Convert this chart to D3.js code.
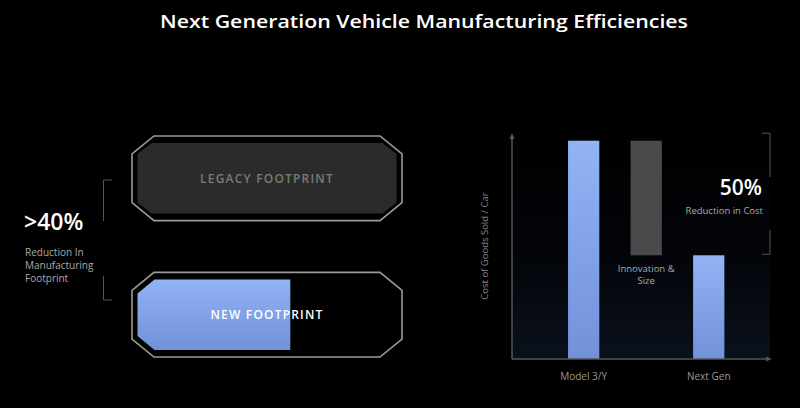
<!DOCTYPE html>
<html>
<head>
<meta charset="utf-8">
<script src="https://cdn.jsdelivr.net/npm/d3@7"></script>
<style>
  html, body { margin: 0; padding: 0; background: #000; }
  svg { display: block; font-family: "Open Sans", sans-serif; }
</style>
</head>
<body>
<svg id="chart" width="800" height="408"></svg>
<script>
// footprint values (legacy = 100)
const footprintNames = ['LEGACY FOOTPRINT', 'NEW FOOTPRINT'];
const footprintValues = [100, 59];
// cost per car (Model 3/Y = 100)
const costCategories = ['Model 3/Y', 'Innovation', 'Next Gen'];
const costLow = [0, 47.5, 0];
const costHigh = [100, 100, 47.5];
const costLabels = ['Model 3/Y', '', 'Next Gen'];

const svg = d3.select('#chart');
const width = 800, height = 408;

svg.append('rect').attr('width', width).attr('height', height).attr('fill', '#000');

const defs = svg.append('defs');
const blue = defs.append('linearGradient').attr('id', 'blue').attr('x1', 0).attr('x2', 0).attr('y1', 0).attr('y2', 1);
blue.append('stop').attr('offset', '0%').attr('stop-color', '#93b3f6');
blue.append('stop').attr('offset', '100%').attr('stop-color', '#7191d9');
const bg = defs.append('linearGradient').attr('id', 'bg').attr('x1', 0).attr('x2', 0).attr('y1', 0).attr('y2', 1);
bg.append('stop').attr('offset', '0%').attr('stop-color', '#000');
bg.append('stop').attr('offset', '55%').attr('stop-color', '#03050a');
bg.append('stop').attr('offset', '100%').attr('stop-color', '#0a111c');

// title
svg.append('text')
  .attr('x', 160).attr('y', 27.5)
  .attr('fill', '#fff')
  .attr('font-size', 18.5)
  .attr('font-weight', 600)
  .attr('textLength', 528)
  .attr('lengthAdjust', 'spacingAndGlyphs')
  .text('Next Generation Vehicle Manufacturing Efficiencies');

// ---------- left: footprint ----------
const boxLeft = 132, boxRight = 402;
const rowY = d3.scaleBand().domain(footprintNames).range([136, 357]).paddingInner(0.38);
const fx = d3.scaleLinear().domain([0, 100]).range([137.5, 396.5]);

function octagon(x0, y0, x1, y1, cx, cy) {
  return `M${x0 + cx},${y0} L${x1 - cx},${y0} L${x1},${y0 + cy} L${x1},${y1 - cy} L${x1 - cx},${y1} L${x0 + cx},${y1} L${x0},${y1 - cy} L${x0},${y0 + cy} Z`;
}
function leftChamfer(x0, y0, x1, y1, cx, cy) {
  return `M${x0 + cx},${y0} L${x1},${y0} L${x1},${y1} L${x0 + cx},${y1} L${x0},${y1 - cy} L${x0},${y0 + cy} Z`;
}

footprintNames.forEach((name, i) => {
  const y0 = rowY(name), y1 = y0 + rowY.bandwidth();
  svg.append('path')
    .attr('d', octagon(boxLeft, y0, boxRight, y1, 22, 18))
    .attr('fill', '#000')
    .attr('stroke', '#9a9a9a')
    .attr('stroke-width', 1.6);
  const iy0 = y0 + 7, iy1 = y1 - 7;
  if (i === 0) {
    svg.append('path')
      .attr('d', octagon(fx(0), iy0, fx(footprintValues[i]), iy1, 14, 11))
      .attr('fill', '#2b2b2b');
  } else {
    svg.append('path')
      .attr('d', leftChamfer(fx(0), iy0, fx(footprintValues[i]), iy1, 17, 14))
      .attr('fill', 'url(#blue)');
  }
  svg.append('text')
    .attr('x', 267).attr('y', (y0 + y1) / 2 + 4.5)
    .attr('text-anchor', 'middle')
    .attr('fill', i === 0 ? '#7a7a7a' : '#ffffff')
    .attr('font-size', 12)
    .attr('font-weight', 600)
    .attr('letter-spacing', 1.2)
    .text(name);
});

// left bracket
const lb = svg.append('g').attr('stroke', '#555').attr('stroke-width', 1).attr('fill', 'none');
lb.append('path').attr('d', 'M112,180 L103.5,180 L103.5,221');
lb.append('path').attr('d', 'M103.5,276 L103.5,300 L112,300');

svg.append('text')
  .attr('x', 24).attr('y', 230)
  .attr('fill', '#fff').attr('font-size', 23).attr('font-weight', 600)
  .text('>40%');
['Reduction In', 'Manufacturing', 'Footprint'].forEach((t, i) => {
  svg.append('text')
    .attr('x', 25).attr('y', 255.5 + i * 13)
    .attr('fill', '#aaa').attr('font-size', 10)
    .text(t);
});

// ---------- right: cost chart ----------
const plot = { left: 512, right: 770, top: 135, bottom: 359 };
const x = d3.scaleBand().domain(costCategories).range([552.4, 740]).paddingInner(0.5).paddingOuter(0.25);
const y = d3.scaleLinear().domain([0, 100]).range([plot.bottom, 140.7]);

svg.append('rect')
  .attr('x', plot.left).attr('y', plot.top)
  .attr('width', plot.right - plot.left).attr('height', plot.bottom - plot.top)
  .attr('fill', 'url(#bg)');

svg.selectAll('.bar')
  .data(costCategories)
  .join('rect')
  .attr('class', 'bar')
  .attr('x', d => x(d))
  .attr('width', x.bandwidth())
  .attr('y', (d, i) => y(costHigh[i]))
  .attr('height', (d, i) => y(costLow[i]) - y(costHigh[i]))
  .attr('fill', (d, i) => i === 1 ? '#4a4a4a' : 'url(#blue)');

// axes
const xAxis = d3.axisBottom(x).tickSize(0).tickFormat((d, i) => costLabels[i]);
const gx = svg.append('g').attr('transform', `translate(0,${plot.bottom})`).call(xAxis);
gx.select('.domain').remove();
gx.selectAll('text').attr('fill', '#999').attr('font-size', 10).attr('dy', 0).attr('y', 21)
  .attr('font-family', '"Open Sans", sans-serif');

svg.append('line')
  .attr('x1', plot.left).attr('x2', plot.right - 2)
  .attr('y1', plot.bottom).attr('y2', plot.bottom)
  .attr('stroke', '#555').attr('stroke-width', 1.5);
svg.append('path')
  .attr('d', `M${plot.right + 2},${plot.bottom} l-6,-2.5 l0,5 Z`).attr('fill', '#555');
svg.append('line')
  .attr('x1', plot.left).attr('x2', plot.left)
  .attr('y1', plot.bottom).attr('y2', plot.top + 2)
  .attr('stroke', '#555').attr('stroke-width', 1.5);
svg.append('path')
  .attr('d', `M${plot.left},${plot.top - 2} l-2.5,6 l5,0 Z`).attr('fill', '#555');

svg.append('text')
  .attr('transform', `translate(488,246) rotate(-90)`)
  .attr('text-anchor', 'middle')
  .attr('fill', '#888').attr('font-size', 9.5)
  .text('Cost of Goods Sold / Car');

// innovation label
const midX = x('Innovation') + x.bandwidth() / 2;
svg.append('text').attr('x', midX).attr('y', 272)
  .attr('text-anchor', 'middle').attr('fill', '#aaa').attr('font-size', 9.5).text('Innovation &');
svg.append('text').attr('x', midX).attr('y', 284)
  .attr('text-anchor', 'middle').attr('fill', '#aaa').attr('font-size', 9.5).text('Size');

// right bracket
const rb = svg.append('g').attr('stroke', '#555').attr('stroke-width', 1).attr('fill', 'none');
rb.append('path').attr('d', `M762,${y(100) - 7.5} L770,${y(100) - 7.5} L770,177`);
rb.append('path').attr('d', `M770,230 L770,${y(47.5) - 1} L762,${y(47.5) - 1}`);

svg.append('text')
  .attr('x', 762).attr('y', 195)
  .attr('text-anchor', 'end').attr('fill', '#fff').attr('font-size', 21).attr('font-weight', 600)
  .text('50%');
svg.append('text')
  .attr('x', 763).attr('y', 213.5)
  .attr('text-anchor', 'end').attr('fill', '#aaa').attr('font-size', 9.5)
  .text('Reduction in Cost');
</script>
</body>
</html>
